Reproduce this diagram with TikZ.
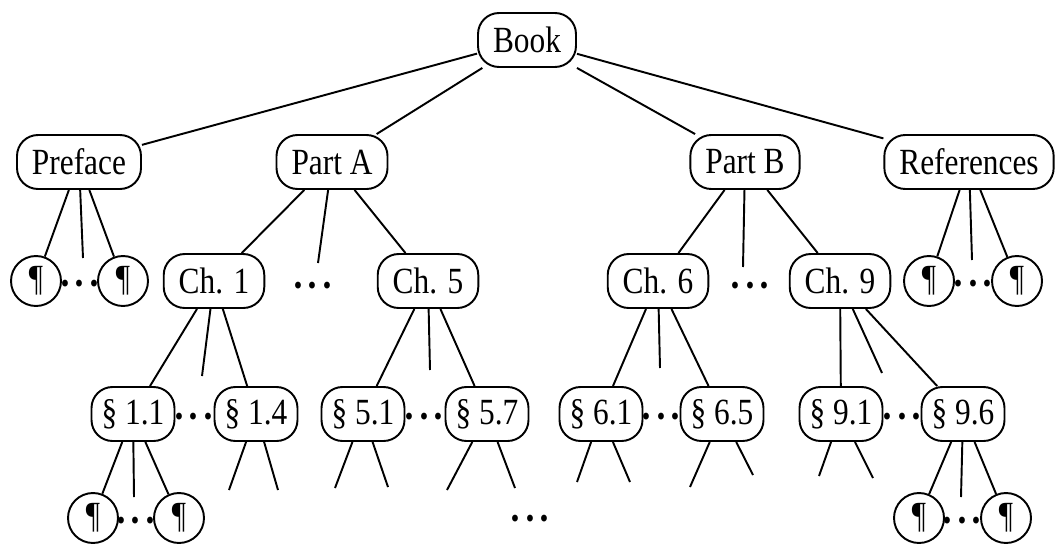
\documentclass[tikz,border=0pt]{standalone}
\usepackage{fontspec}
\setmainfont[FakeStretch=0.85]{Liberation Serif}
\usetikzlibrary{positioning}

\newcommand{\gapdots}{·\kern1.7pt·\kern1.7pt·}

\begin{document}
\begin{tikzpicture}[x=0.02cm, y=-0.02cm,
    box/.style={rectangle, draw, line width=1.1pt, rounded corners=0.42cm, minimum height=1.08cm, inner xsep=0.3cm, font=\fontsize{21}{24}\selectfont},
    sec/.style={box, minimum width=1.66cm, inner xsep=0.1cm},
    para/.style={circle, draw, line width=1.1pt, minimum size=1.0cm, inner sep=0pt, font=\fontsize{21}{24}\selectfont},
    dots/.style={font=\fontsize{24}{26}\selectfont\bfseries, inner sep=0pt, yshift=-4.5pt},
    link/.style={line width=1.1pt}
]
\useasboundingbox (0,0) rectangle (1057,544);

\node[box] (book) at (527,40) {Book};
\node[box] (preface) at (79,162) {Preface};
\node[box] (partA) at (332,162) {Part A};
\node[box] (partB) at (745,162) {Part B};
\node[box] (refs) at (969,162) {References};

\node[para] (pp1) at (36,281) {\P};
\node[dots] (ppd) at (80,281) {\gapdots};
\node[para] (pp2) at (123,281) {\P};
\node[box] (ch1) at (214,281) {Ch. 1};
\node[dots] (chd1) at (313,283) {\gapdots};
\node[box] (ch5) at (428,281) {Ch. 5};
\node[box] (ch6) at (658,281) {Ch. 6};
\node[dots] (chd2) at (750,283) {\gapdots};
\node[box] (ch9) at (840,281) {Ch. 9};
\node[para] (rp1) at (929,281) {\P};
\node[dots] (rpd) at (973,281) {\gapdots};
\node[para] (rp2) at (1017,281) {\P};

\node[sec] (s11) at (133,414) {\S~1.1};
\node[dots] (s1d) at (194,414) {\gapdots};
\node[sec] (s14) at (256,414) {\S~1.4};
\node[sec] (s51) at (363,414) {\S~5.1};
\node[dots] (s5d) at (424,414) {\gapdots};
\node[sec] (s57) at (487,414) {\S~5.7};
\node[sec] (s61) at (601,414) {\S~6.1};
\node[dots] (s6d) at (661,414) {\gapdots};
\node[sec] (s65) at (722,414) {\S~6.5};
\node[sec] (s91) at (841,414) {\S~9.1};
\node[dots] (s9d) at (902,414) {\gapdots};
\node[sec] (s96) at (963,414) {\S~9.6};

\node[para] (bp1) at (93,518) {\P};
\node[dots] (bpd) at (136,518) {\gapdots};
\node[para] (bp2) at (179,518) {\P};
\node[dots] (md) at (530,516) {\gapdots};
\node[para] (ep1) at (919,518) {\P};
\node[dots] (epd) at (962,518) {\gapdots};
\node[para] (ep2) at (1006,518) {\P};

\coordinate (prefm) at (83,258);
\coordinate (partAm) at (318,263);
\coordinate (partBm) at (743,267);
\coordinate (refsm) at (972,260);
\coordinate (ch1m) at (202,376);
\coordinate (ch5m) at (430,370);
\coordinate (ch6m) at (660,368);
\coordinate (ch9m) at (882,373);
\coordinate (s11m) at (134,497);
\coordinate (s96m) at (961,497);
\coordinate (s14a) at (229,490);
\coordinate (s14b) at (278,490);
\coordinate (s51a) at (335,488);
\coordinate (s51b) at (388,487);
\coordinate (s57a) at (447,490);
\coordinate (s57b) at (515,488);
\coordinate (s61a) at (577,482);
\coordinate (s61b) at (630,482);
\coordinate (s65a) at (690,487);
\coordinate (s65b) at (753,475);
\coordinate (s91a) at (819,476);
\coordinate (s91b) at (873,478);

\draw[link] (book) -- (preface);
\draw[link] (book) -- (partA);
\draw[link] (book) -- (partB);
\draw[link] (book) -- (refs);
\draw[link] (preface) -- (pp1);
\draw[link] (preface) -- (prefm);
\draw[link] (preface) -- (pp2);
\draw[link] (partA) -- (ch1);
\draw[link] (partA) -- (partAm);
\draw[link] (partA) -- (ch5);
\draw[link] (partB) -- (ch6);
\draw[link] (partB) -- (partBm);
\draw[link] (partB) -- (ch9);
\draw[link] (refs) -- (rp1);
\draw[link] (refs) -- (refsm);
\draw[link] (refs) -- (rp2);
\draw[link] (ch1) -- (s11);
\draw[link] (ch1) -- (ch1m);
\draw[link] (ch1) -- (s14);
\draw[link] (ch5) -- (s51);
\draw[link] (ch5) -- (ch5m);
\draw[link] (ch5) -- (s57);
\draw[link] (ch6) -- (s61);
\draw[link] (ch6) -- (ch6m);
\draw[link] (ch6) -- (s65);
\draw[link] (ch9) -- (s91);
\draw[link] (ch9) -- (ch9m);
\draw[link] (ch9) -- (s96);
\draw[link] (s11) -- (bp1);
\draw[link] (s11) -- (s11m);
\draw[link] (s11) -- (bp2);
\draw[link] (s14) -- (s14a);
\draw[link] (s14) -- (s14b);
\draw[link] (s51) -- (s51a);
\draw[link] (s51) -- (s51b);
\draw[link] (s57) -- (s57a);
\draw[link] (s57) -- (s57b);
\draw[link] (s61) -- (s61a);
\draw[link] (s61) -- (s61b);
\draw[link] (s65) -- (s65a);
\draw[link] (s65) -- (s65b);
\draw[link] (s91) -- (s91a);
\draw[link] (s91) -- (s91b);
\draw[link] (s96) -- (ep1);
\draw[link] (s96) -- (s96m);
\draw[link] (s96) -- (ep2);
\end{tikzpicture}
\end{document}
